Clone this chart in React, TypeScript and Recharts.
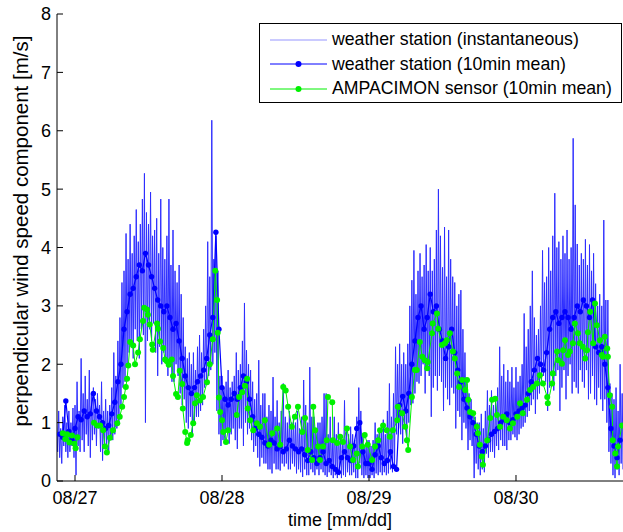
import { LineChart, Line, XAxis, YAxis, Legend } from "recharts";

const dayTicks = [0, 24, 48, 72];
const dayLabels = ["08/27", "08/28", "08/29", "08/30"];
const speedTicks = [0, 1, 2, 3, 4, 5, 6, 7, 8];

// weather station, instantaneous: one reading every 10 min, starting 08/26 21:00 (hours from 08/27 00:00)
// one row per hour
const instStart = -3;
const instStep = 1 / 6;
const instSpeed = [
  1.0, 0.5, 1.2, 0.4, 0.9, 0.3,
  1.1, 0.6, 1.3, 0.5, 1.0, 0.4,
  1.2, 0.5, 1.0, 0.6, 1.25, 0.4,
  1.3, 0.1, 1.7, 0.6, 1.2, 0.5,
  2.1, 0.7, 1.5, 0.5, 1.8, 0.8,
  1.4, 0.6, 1.9, 0.4, 1.5, 0.7,
  1.6, 0.8, 1.4, 0.6, 1.5, 0.9,
  1.3, 0.5, 1.7, 0.35, 1.2, 0.6,
  1.4, 0.6, 1.2, 0.5, 1.3, 0.7,
  1.6, 0.7, 2.2, 0.8, 1.8, 0.9,
  2.4, 1.0, 2.8, 1.3, 3.4, 1.6,
  3.6, 1.7, 4.24, 2.0, 3.8, 2.2,
  4.4, 2.3, 3.9, 2.1, 4.2, 2.6,
  4.65, 2.4, 4.1, 2.1, 4.4, 2.6,
  4.83, 2.5, 5.27, 1.0, 4.6, 2.4,
  4.4, 2.6, 4.95, 2.4, 4.2, 2.7,
  4.3, 2.2, 4.5, 1.8, 3.9, 2.3,
  4.83, 2.0, 4.0, 2.2, 3.8, 2.1,
  4.2, 1.8, 4.83, 2.0, 3.7, 1.7,
  4.3, 1.7, 3.6, 2.0, 3.4, 1.8,
  3.7, 1.5, 3.2, 1.3, 2.8, 1.4,
  2.3, 1.0, 2.1, 0.9, 2.2, 1.1,
  2.0, 0.8, 2.2, 1.0, 1.9, 1.1,
  2.3, 1.1, 2.5, 1.2, 2.2, 1.3,
  2.6, 1.6, 3.0, 1.7, 4.1, 1.8,
  3.5, 1.9, 6.18, 2.0, 3.8, 2.2,
  4.2, 1.2, 3.6, 0.8, 1.8, 0.6,
  1.8, 0.7, 1.6, 0.65, 1.7, 0.9,
  1.9, 0.64, 1.6, 0.8, 1.7, 0.9,
  1.8, 0.7, 2.2, 0.55, 1.9, 0.9,
  2.0, 0.9, 2.4, 0.6, 3.05, 1.0,
  2.24, 0.8, 2.0, 0.9, 1.9, 0.7,
  1.7, 0.5, 1.4, 0.6, 1.5, 0.4,
  2.07, 0.25, 1.3, 0.4, 1.5, 0.3,
  1.5, 0.3, 1.1, 0.2, 1.3, 0.2,
  1.2, 0.13, 1.78, 0.3, 1.1, 0.2,
  1.38, 0.2, 1.0, 0.18, 1.2, 0.3,
  1.67, 0.25, 1.1, 0.3, 1.0, 0.2,
  1.2, 0.2, 1.0, 0.3, 1.1, 0.25,
  1.0, 0.13, 1.2, 0.2, 0.9, 0.15,
  1.1, 0.07, 1.73, 0.2, 1.3, 0.1,
  1.0, 0.1, 1.95, 0.2, 1.1, 0.15,
  1.1, 0.1, 0.9, 0.2, 1.0, 0.1,
  1.0, 0.2, 1.1, 0.15, 1.5, 0.1,
  1.5, 0.07, 0.8, 0.15, 1.1, 0.1,
  0.7, 0.05, 1.1, 0.1, 0.8, 0.05,
  1.0, 0.1, 0.8, 0.05, 0.7, 0.1,
  1.38, 0.07, 0.9, 0.15, 0.8, 0.1,
  0.93, 0.1, 0.8, 0.15, 0.7, 0.05,
  1.1, 0.05, 1.6, 0.3, 1.2, 0.1,
  0.76, 0.05, 0.6, 0.1, 0.7, 0.05,
  0.7, 0.05, 0.6, 0.1, 0.7, 0.05,
  1.0, 0.13, 0.8, 0.1, 0.9, 0.15,
  0.9, 0.1, 1.05, 0.15, 0.8, 0.1,
  1.2, 0.13, 1.67, 0.2, 1.1, 0.15,
  1.5, 0.2, 2.3, 0.8, 2.0, 0.9,
  2.35, 0.8, 2.0, 0.64, 2.2, 0.9,
  2.0, 0.7, 2.35, 1.0, 3.0, 1.3,
  3.44, 1.33, 3.95, 1.5, 3.2, 1.7,
  3.6, 1.67, 3.9, 1.8, 3.5, 2.0,
  3.7, 1.5, 4.05, 1.9, 3.6, 1.8,
  4.0, 1.1, 3.6, 1.6, 3.8, 1.8,
  4.3, 1.55, 5.0, 1.8, 4.2, 1.7,
  3.66, 1.2, 4.35, 1.6, 3.5, 1.4,
  4.3, 1.3, 3.8, 1.6, 3.5, 1.5,
  3.4, 0.9, 3.0, 1.2, 3.2, 1.1,
  3.27, 0.7, 2.6, 1.0, 2.2, 0.9,
  1.67, 0.53, 1.5, 0.7, 1.4, 0.6,
  1.2, 0.05, 1.1, 0.3, 1.0, 0.2,
  1.0, 0.1, 1.15, 0.2, 0.9, 0.15,
  1.2, 0.47, 1.55, 0.4, 1.3, 0.5,
  1.55, 0.5, 1.3, 0.4, 1.4, 0.6,
  1.6, 0.53, 2.3, 0.7, 1.8, 0.6,
  2.0, 0.6, 1.7, 0.53, 1.9, 0.7,
  1.7, 0.7, 1.95, 0.8, 1.6, 0.75,
  1.95, 0.7, 1.7, 0.8, 1.8, 0.9,
  2.0, 0.93, 2.87, 1.0, 2.3, 1.1,
  2.6, 1.2, 3.0, 1.3, 3.6, 1.4,
  2.8, 1.15, 2.5, 1.4, 2.6, 1.5,
  3.0, 1.67, 3.95, 1.8, 3.4, 1.7,
  3.5, 1.2, 4.0, 1.6, 3.6, 1.8,
  4.2, 1.55, 4.93, 1.8, 4.0, 1.9,
  4.1, 1.2, 3.8, 1.6, 4.2, 1.9,
  3.9, 1.4, 4.3, 1.8, 3.8, 2.0,
  4.0, 1.5, 5.87, 1.7, 4.73, 1.6,
  4.06, 1.5, 3.7, 1.9, 3.9, 1.7,
  3.8, 1.6, 4.14, 1.9, 3.7, 1.4,
  4.05, 1.5, 3.6, 1.8, 3.9, 1.4,
  3.38, 1.3, 3.0, 1.6, 3.2, 1.4,
  3.0, 1.2, 4.47, 1.4, 3.1, 1.0,
  3.1, 0.5, 1.67, 0.3, 1.5, 0.1,
  1.4, 0.05, 1.6, 0.2, 1.2, 0.1,
  2.0, 0.3, 1.5, 0.2, 1.6, 0.4,
];

// weather station, 10min mean, read every 30 min from 08/26 21:30
const meanStart = -2.5;
const meanStep = 0.5;
const meanSpeed = [
  0.8, 0.75, 1.37, 0.85, 0.7, 0.9, 1.1, 1.05, 1.2, 1.1,
  1.15, 1.5, 1.2, 1.1, 1.0, 0.9, 0.95, 1.15, 1.35, 1.7,
  2.0, 2.6, 2.9, 3.2, 3.3, 3.5, 3.7, 3.6, 3.9, 3.7,
  3.5, 3.3, 3.1, 3.0, 2.9, 3.0, 2.8, 2.6, 2.7, 2.4,
  2.1, 1.8, 1.6, 1.5, 1.6, 1.7, 1.8, 1.9, 2.1, 2.5,
  2.8, 4.26, 2.6, 1.6, 1.4, 1.3, 1.4, 1.5, 1.4, 1.6,
  1.8, 1.7, 1.4, 1.1, 0.9, 0.8, 0.75, 0.65, 0.6, 0.7,
  0.65, 0.55, 0.6, 0.5, 0.55, 0.7, 0.6, 0.55, 0.5, 0.55,
  0.45, 0.35, 0.5, 0.4, 0.3, 0.4, 0.5, 0.3, 0.35, 0.25,
  0.2, 0.15, 0.4, 0.5, 0.4, 0.35, 0.6, 0.9, 1.0, 0.5,
  0.3, 0.3, 0.2, 0.45, 0.6, 0.4, 0.3, 0.35, 0.5, 0.25,
  0.2, 1.3, 1.45, 1.2, 1.5, 2.0, 2.4, 2.8, 3.0, 2.6,
  2.8, 3.2, 2.9, 3.0, 2.6, 2.4, 2.1, 2.3, 2.6, 2.2,
  1.9, 1.7, 1.4, 1.25, 1.1, 1.0, 0.8, 0.6, 0.5, 0.6,
  0.7, 0.8, 0.85, 0.9, 1.0, 1.05, 1.15, 1.0, 1.05, 1.15,
  1.2, 1.25, 1.3, 1.5, 1.7, 1.9, 2.1, 2.0, 1.9, 2.2,
  2.6, 2.8, 2.9, 2.7, 2.8, 2.9, 2.8, 2.6, 2.8, 3.0,
  2.9, 3.1, 3.0, 2.8, 3.1, 2.3, 2.2, 2.3, 2.0, 1.6,
  0.9, 0.6, 0.4, 0.7,
];

// AMPACIMON sensor, 10min mean: [hours from 08/27 00:00, m/s], null marks a gap
const ampacimon: [number, number | null][] = [
  [-2.0, 0.82], [-1.6, 0.72], [-1.3, 0.8], [-0.9, 0.66], [-0.5, 0.78], [-0.1, 0.64], [0.1, 0.56], [0.4, 0.75],
  [1.5, null],
  [3.1, 1.0], [3.6, 0.95], [4.1, 0.95], [4.6, 0.87], [4.9, 0.59], [5.2, 0.49], [5.7, 0.74], [6.2, 0.87],
  [6.9, 0.99], [7.3, 1.1], [7.7, 1.27], [8.0, 1.44], [8.3, 1.61], [8.5, 1.75], [8.7, 1.98], [9.0, 2.38],
  [9.5, 2.32], [9.8, 2.0], [10.3, 2.2], [10.6, 2.43], [11.1, 2.74], [11.3, 2.97], [11.75, 2.94], [11.9, 2.85],
  [12.2, 2.68], [12.6, 2.34], [12.7, 2.25], [13.4, 2.7], [13.55, 2.61], [13.9, 2.39], [14.4, 2.28], [14.7, 2.08],
  [15.0, 2.05], [15.3, 1.99], [15.8, 2.08], [16.0, 1.8], [16.5, 1.49], [16.8, 1.44], [17.1, 1.89], [17.5, 1.66],
  [17.6, 1.24], [18.0, 0.84], [18.3, 0.65], [18.4, 0.7], [18.9, 0.79], [19.3, 0.99], [19.6, 1.33], [19.9, 1.47],
  [20.4, 1.38], [20.9, 1.44], [21.55, 1.69], [22.0, 2.0], [22.5, 2.43], [22.9, 3.6], [23.2, 3.1], [23.3, 2.54],
  [23.5, 1.43], [23.7, 1.18], [24.0, 1.04], [24.2, 0.84], [24.65, 0.67], [25.0, 0.87],
  [25.7, null],
  [26.4, 1.13], [26.8, 1.44], [27.3, 1.52], [27.75, 1.63], [28.1, 1.75], [28.2, 1.24], [28.6, 1.04], [29.1, 0.87],
  [29.7, 0.99], [30.2, 0.93], [31.0, 1.04], [31.7, 0.62], [32.2, 0.82], [33.0, 0.9], [33.5, 0.62], [34.0, 1.61],
  [34.4, 1.55], [34.8, 1.27], [35.4, 0.93], [35.9, 1.1], [36.4, 1.27], [37.1, 0.84], [37.55, 1.08], [38.0, 0.53],
  [38.7, 0.36], [38.9, 1.27], [39.2, 0.87], [39.7, 0.59], [40.0, 0.36], [40.5, 0.59], [41.1, 0.7], [41.3, 1.44],
  [42.0, 1.35], [42.1, 0.7], [42.8, 0.65], [43.3, 0.76], [43.75, 0.67], [44.4, 0.9], [44.9, 0.59], [45.4, 0.36],
  [46.0, 0.47], [46.2, 0.25], [46.9, 0.59], [47.3, 0.79], [47.8, 0.62], [48.5, 0.36], [49.0, 0.59], [49.5, 0.7],
  [49.8, 0.87], [50.3, 0.95], [50.9, 0.87], [51.4, 0.76], [51.9, 0.87], [52.6, 1.04], [52.7, 1.27], [53.4, 1.16],
  [53.9, 0.93], [54.2, 0.7], [54.4, 0.53], [55.0, 1.44], [55.5, 1.9], [55.8, 1.9], [56.3, 2.38], [56.7, 2.13],
  [57.1, 2.07], [57.5, 1.93], [57.6, 2.04], [58.3, 2.53], [58.4, 2.7], [59.1, 2.87], [59.3, 2.61], [59.9, 2.33],
  [60.4, 2.36], [60.7, 2.41], [61.2, 2.53], [61.7, 2.22], [62.0, 2.1], [62.4, 1.84], [62.7, 1.61], [63.2, 1.73],
  [63.7, 1.56], [64.0, 1.73], [64.2, 1.39], [64.5, 1.18], [65.0, 1.16], [65.6, 0.93], [65.8, 0.82], [66.1, 0.62],
  [66.4, 0.42], [66.6, 0.28], [67.3, 0.7], [67.8, 1.08], [68.1, 1.39], [68.6, 1.41], [68.9, 1.13], [69.4, 0.93],
  [69.9, 1.1], [70.5, 1.04], [71.0, 0.9], [71.5, 0.99], [72.2, 1.1], [72.65, 1.33], [73.1, 1.16], [73.8, 1.39],
  [74.3, 1.56], [74.8, 1.61], [75.4, 1.67], [75.9, 1.81], [76.4, 1.67], [77.1, 1.44], [77.2, 1.33], [77.9, 1.67],
  [78.0, 1.84], [78.7, 2.22], [78.9, 2.07], [79.5, 2.01], [79.7, 2.24], [80.0, 2.41], [80.5, 2.16], [80.8, 2.22],
  [81.3, 2.36], [81.6, 2.7], [82.1, 2.53], [82.4, 2.36], [82.9, 2.3], [83.3, 2.1], [83.6, 2.24], [83.75, 2.55],
  [84.1, 2.9], [84.6, 2.36], [84.9, 3.04], [85.2, 2.67], [85.7, 2.41], [86.0, 2.16], [86.2, 2.13], [86.5, 2.47],
  [86.9, 2.27], [87.0, 2.13], [87.3, 1.47], [87.7, 1.27], [87.8, 0.7], [88.2, 0.47], [88.5, 0.25], [88.65, 0.59],
  [89.3, 0.95],
];

const instColor = "#2e2eff";
const meanColor = "#0000ff";
const ampColor = "#00f000";
const font = '"Liberation Sans", Arial, sans-serif';

const legendItems = [
  { label: "weather station (instantaneous)", color: instColor, dot: false },
  { label: "weather station (10min mean)", color: meanColor, dot: true },
  { label: "AMPACIMON sensor (10min mean)", color: ampColor, dot: true },
];

function LegendBox() {
  return (
    <div style={{ border: "1px solid #000", background: "#fff", width: 363, height: 80, boxSizing: "border-box", paddingTop: 3.5 }}>
      {legendItems.map(item => (
        <div key={item.label} style={{ display: "flex", alignItems: "center", height: 24.5 }}>
          <svg width={70} height={24} style={{ flex: "none" }}>
            <line x1={10} x2={67} y1={12} y2={12} stroke={item.color} strokeOpacity={item.dot ? 1 : 0.5} strokeWidth={1} />
            {item.dot && <circle cx={38.5} cy={12} r={3} fill={item.color} />}
          </svg>
          <span style={{ fontSize: 17.7, color: "#000", marginLeft: 2, whiteSpace: "nowrap" }}>{item.label}</span>
        </div>
      ))}
    </div>
  );
}

export default function App() {
  const instData = instSpeed.map((v, i) => ({ t: instStart + i * instStep, v }));
  const meanData = meanSpeed.map((v, i) => ({ t: meanStart + i * meanStep, v }));
  const ampData = ampacimon.map(([t, v]) => ({ t, v }));

  return (
    <div style={{ position: "absolute", left: 0, top: 0, width: 623, height: 532, background: "#fff", fontFamily: font, overflow: "hidden" }}>
      <LineChart width={623} height={532} margin={{ top: 14, right: 0, bottom: 0, left: 0 }}>
        <XAxis
          dataKey="t"
          type="number"
          domain={[-2.94, 89.47]}
          ticks={dayTicks}
          tickFormatter={(t: number) => dayLabels[dayTicks.indexOf(t)]}
          allowDataOverflow
          height={51}
          tickSize={-6}
          tickMargin={16}
          axisLine={{ stroke: "#000" }}
          tickLine={{ stroke: "#000" }}
          tick={{ fill: "#000", fontSize: 18 }}
          label={{
            content: () => (
              <text x={340} y={526} textAnchor="middle" fontSize={18} fill="#000">time [mm/dd]</text>
            ),
          }}
        />
        <XAxis
          xAxisId="top"
          orientation="top"
          dataKey="t"
          type="number"
          domain={[-2.94, 89.47]}
          ticks={dayTicks}
          allowDataOverflow
          height={0}
          tickSize={-6}
          tick={false}
          axisLine={{ stroke: "#000" }}
          tickLine={{ stroke: "#000" }}
        />
        <YAxis
          type="number"
          domain={[0, 8]}
          ticks={speedTicks}
          allowDataOverflow
          width={57}
          tickSize={-6}
          tickMargin={12}
          axisLine={{ stroke: "#000" }}
          tickLine={{ stroke: "#000" }}
          tick={{ fill: "#000", fontSize: 18 }}
          label={{
            content: () => (
              <text x={28} y={231} transform="rotate(-90 28 231)" textAnchor="middle" fontSize={20.5} fill="#000">
                perpendicular wind speed component [m/s]
              </text>
            ),
          }}
        />
        <Line data={instData} dataKey="v" type="linear" stroke={instColor} strokeWidth={1} dot={false} isAnimationActive={false} />
        <Line
          data={meanData}
          dataKey="v"
          type="linear"
          stroke={meanColor}
          strokeWidth={1.2}
          dot={{ r: 2.7, fill: meanColor, stroke: "none" }}
          isAnimationActive={false}
        />
        <Line
          data={ampData}
          dataKey="v"
          type="linear"
          stroke={ampColor}
          strokeWidth={1}
          dot={{ r: 3, fill: ampColor, stroke: "none" }}
          isAnimationActive={false}
        />
        <Legend
          layout="horizontal"
          verticalAlign="middle"
          align="center"
          wrapperStyle={{ left: 259, top: 23, width: 363, height: 80 }}
          content={() => <LegendBox />}
        />
      </LineChart>
    </div>
  );
}
